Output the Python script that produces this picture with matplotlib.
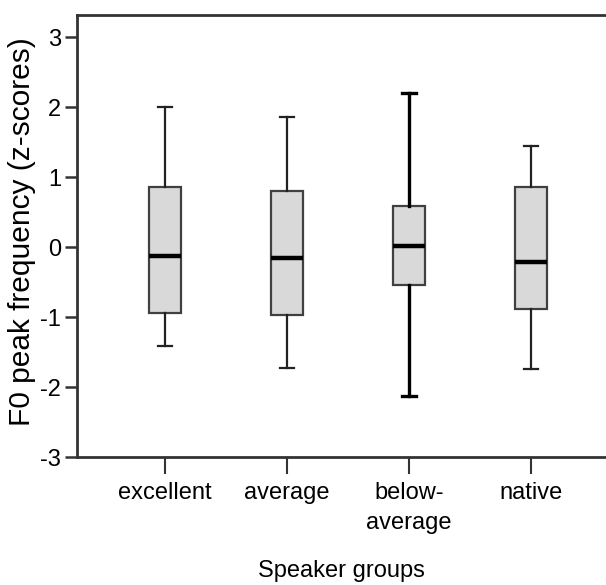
import matplotlib
matplotlib.use('Agg')
import matplotlib.pyplot as plt

plt.rcParams['font.family'] = ['Liberation Sans', 'DejaVu Sans']

groups = ['excellent', 'average', 'below-\naverage', 'native']
whis_low = [-1.41, -1.73, -2.13, -1.74]
q1 = [-0.94, -0.97, -0.54, -0.89]
medians = [-0.13, -0.16, 0.01, -0.21]
q3 = [0.86, 0.80, 0.58, 0.86]
whis_high = [2.00, 1.86, 2.20, 1.45]
yticks = [-3, -2, -1, 0, 1, 2, 3]

stats = []
for i in range(len(groups)):
    stats.append({'whislo': whis_low[i], 'q1': q1[i], 'med': medians[i],
                  'q3': q3[i], 'whishi': whis_high[i], 'fliers': [], 'label': groups[i]})

fig = plt.figure(figsize=(6.06, 5.85), dpi=100)
ax = fig.add_axes([77 / 606, 128 / 585, 1 - 77 / 606, (457 - 15) / 585])

pos = list(range(1, len(groups) + 1))
bp = ax.bxp(stats, positions=pos, widths=0.255, patch_artist=True, capwidths=0.12,
            boxprops=dict(facecolor='#d9d9d9', edgecolor='#404040', linewidth=1.6),
            medianprops=dict(color='black', linewidth=3.2),
            whiskerprops=dict(color='#222222', linewidth=1.6),
            capprops=dict(color='#222222', linewidth=1.6))

# the below-average whiskers are drawn heavier
for ln in bp['whiskers'][4:6] + bp['caps'][4:6]:
    ln.set_color('black')
    ln.set_linewidth(2.4)

ax.set_xlim(1 - 88 / 122, 4 + 75 / 122)
ax.set_ylim(-3, 3 + 22 / 70)
ax.set_yticks(yticks)
ax.set_yticklabels([str(t) for t in yticks])
ax.set_xticks(pos)
ax.set_xticklabels(groups, linespacing=1.45)

ax.spines['right'].set_visible(False)
for s in ['left', 'top', 'bottom']:
    ax.spines[s].set_color('#333333')
    ax.spines[s].set_linewidth(2.0)

ax.tick_params(axis='y', direction='out', length=8.5, width=1.8, color='#333333',
               labelsize=17, pad=3)
ax.tick_params(axis='x', direction='out', length=12, width=1.5, color='#333333',
               labelsize=17, pad=6)

ax.set_xlabel('Speaker groups', fontsize=17, labelpad=19)
ax.set_ylabel('F0 peak frequency (z-scores)', fontsize=21.5)
ax.yaxis.set_label_coords(-0.078, 0.51)

fig.savefig('out.png', dpi=100)
